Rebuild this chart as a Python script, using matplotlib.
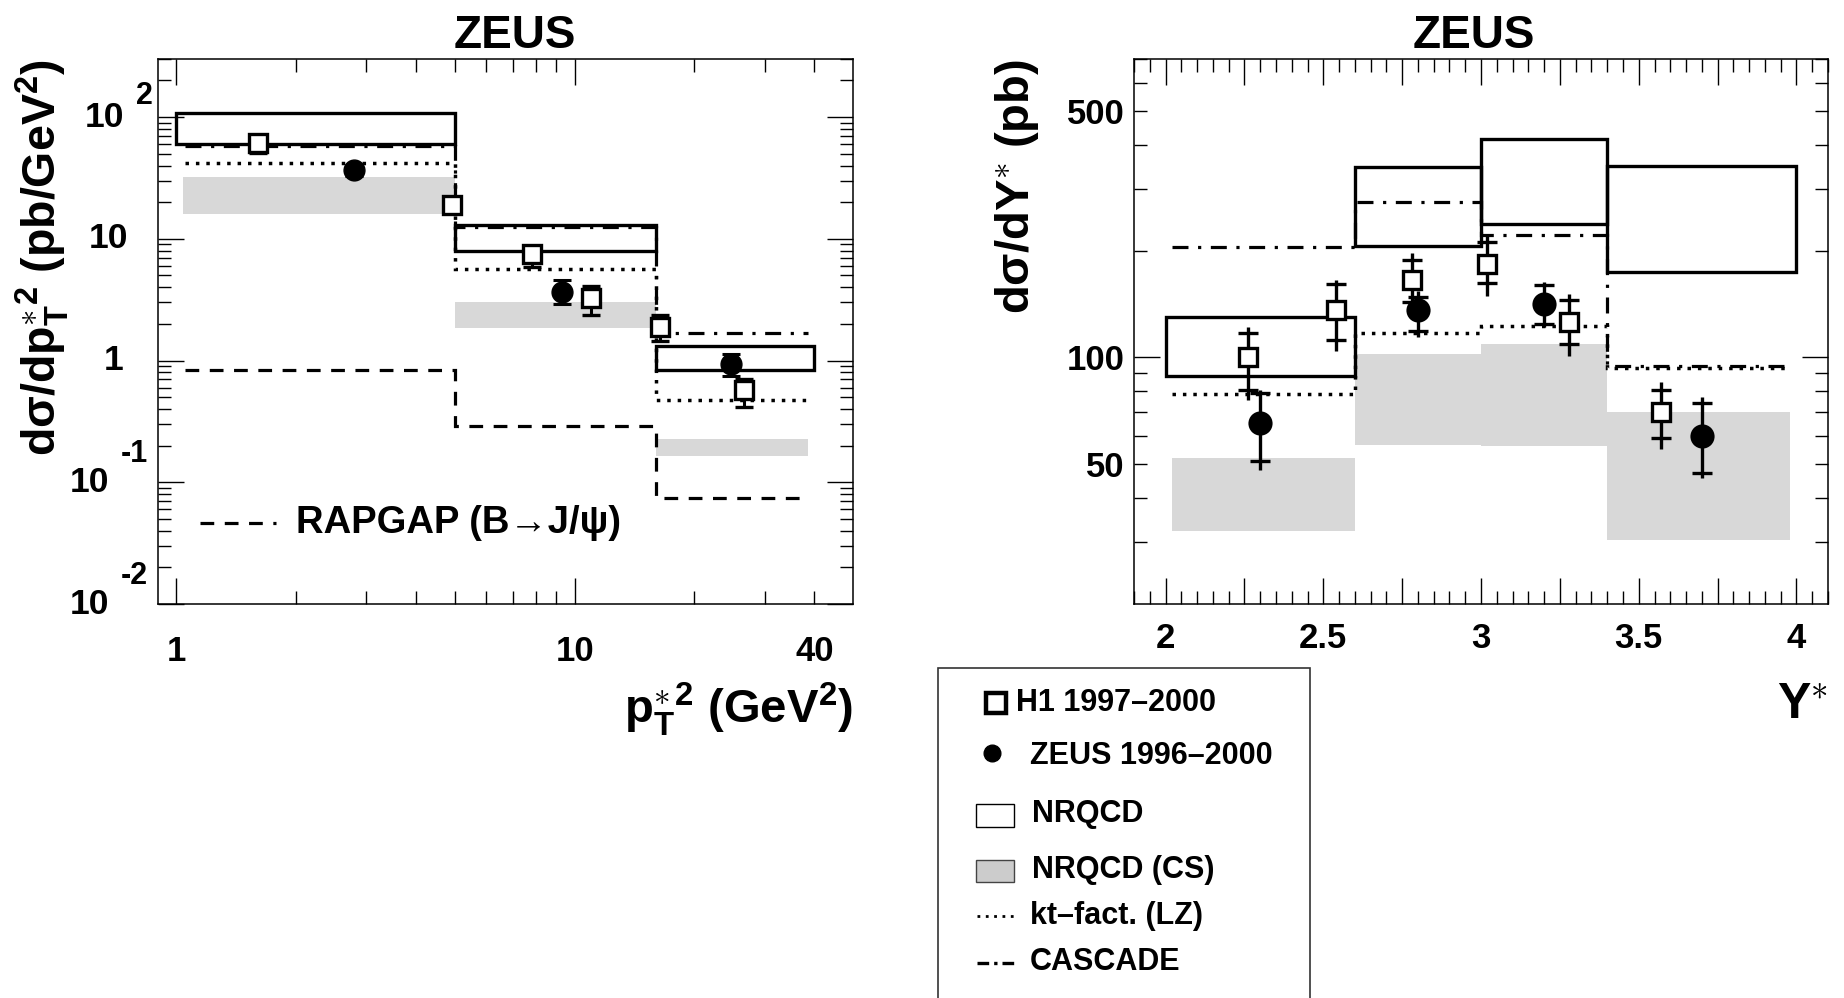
#!/usr/bin/env python3
"""ZEUS J/psi: dsigma/dpT*^2 and dsigma/dY* with H1 data and model curves."""
import numpy as np
import matplotlib

matplotlib.use("Agg")
import matplotlib.pyplot as plt
from matplotlib.lines import Line2D
from matplotlib.patches import Rectangle
from matplotlib.transforms import blended_transform_factory, offset_copy

plt.rcParams["font.family"] = ["Liberation Sans", "DejaVu Sans"]
plt.rcParams["font.weight"] = "bold"
plt.rcParams["axes.labelweight"] = "bold"
plt.rcParams["axes.titleweight"] = "bold"
plt.rcParams["mathtext.fontset"] = "custom"
plt.rcParams["mathtext.rm"] = "Liberation Sans:bold"
plt.rcParams["mathtext.it"] = "Liberation Sans:bold"
plt.rcParams["mathtext.bf"] = "Liberation Sans:bold"
plt.rcParams["mathtext.sf"] = "Liberation Sans:bold"

# ---- left panel: pT*^2 ----
pt_edges = [1, 5, 16, 40]
pt_line_edges = [1.05, 5, 16, 38.5]
pt_band_edges = [1.04, 5, 16, 38.5]
pt_nrqcd_lo = [60, 8.0, 0.83]
pt_nrqcd_hi = [109, 13.0, 1.31]
pt_cs_lo = [16, 1.84, 0.165]
pt_cs_hi = [32, 3.0, 0.225]
pt_kt = [41.7, 5.6, 0.47]
pt_cascade = [58, 12.6, 1.67]
pt_rapgap = [0.83, 0.289, 0.0736]

h1_pt_x = [1.6, 4.93, 7.83, 11.0, 16.4, 26.7]
h1_pt_y = [60.8, 18.9, 7.48, 3.24, 1.89, 0.571]
h1_pt_lo = [51, 16.5, 5.85, 2.37, 1.46, 0.417]
h1_pt_hi = [70, 21.5, 8.7, 4.1, 2.36, 0.70]

zeus_pt_x = [2.8, 9.31, 24.7]
zeus_pt_y = [36.7, 3.63, 0.93]
zeus_pt_lo = [33, 2.9, 0.74]
zeus_pt_hi = [40.5, 4.6, 1.13]

# ---- right panel: Y* ----
y_edges = [2.0, 2.6, 3.0, 3.4, 4.0]
y_line_edges = [2.02, 2.6, 3.0, 3.4, 3.98]
y_band_edges = [2.02, 2.6, 3.0, 3.4, 3.98]
y_nrqcd_lo = [88.6, 207, 239, 174]
y_nrqcd_hi = [130, 347, 415, 349]
y_cs_lo = [32.3, 56.6, 56, 30.3]
y_cs_hi = [52, 102.5, 109, 70]
y_kt = [78.5, 117, 122.6, 93]
y_cascade = [206, 276, 222, 94.5]

h1_y_x = [2.26, 2.54, 2.78, 3.02, 3.28, 3.57]
h1_y_y = [100, 136, 166, 184, 126, 70]
h1_y_stat_lo = [81, 112, 143, 162, 109, 59]
h1_y_stat_hi = [117, 161, 189, 212, 145, 81]
h1_y_tot_lo = [75.5, 104, 134, 149, 101, 55]
h1_y_tot_hi = [122, 166, 198, 221, 151, 85]

zeus_y_x = [2.30, 2.80, 3.20, 3.70]
zeus_y_y = [65, 136, 142, 60]
zeus_y_stat_lo = [51, 119, 124, 47]
zeus_y_stat_hi = [79, 148, 160, 74]
zeus_y_tot_lo = [48, 114, 122, 45.6]
zeus_y_tot_hi = [81, 154, 163, 77]

legend_labels = ["H1 1997\u20132000", "ZEUS 1996\u20132000", "NRQCD",
                 "NRQCD (CS)", "kt\u2013fact. (LZ)", "CASCADE"]

GREY = "#d8d8d8"
DOT = (0, (1, 2))
DASH = (0, (4.3, 3.3))
DASHDOT = (0, (5, 3, 1, 3))

W, H = 1844, 998
fig = plt.figure(figsize=(W / 100, H / 100), dpi=100)


def fx(px):
    return px / W


def fy(py):
    return 1 - py / H


ax1 = fig.add_axes([fx(158), fy(604), fx(853) - fx(158), fy(59) - fy(604)])
ax2 = fig.add_axes([fx(1134), fy(604), fx(1828) - fx(1134), fy(59) - fy(604)])


def draw_theory(ax, edges, band_edges, line_edges, nlo, nhi, clo, chi, kt, casc):
    for i in range(len(nlo)):
        ax.fill_between([band_edges[i], band_edges[i + 1]], clo[i], chi[i],
                        color=GREY, lw=0, zorder=1)
        ax.add_patch(Rectangle((edges[i], nlo[i]), edges[i + 1] - edges[i],
                               nhi[i] - nlo[i], fill=False, ec="k", lw=2.4, zorder=3))
    ax.stairs(kt, line_edges, baseline=None, color="k", lw=2.5, ls=DOT, zorder=4)
    ax.stairs(casc, line_edges, baseline=None, color="k", lw=2.3, ls=DASHDOT, zorder=4)


# left panel
ax1.set_xscale("log")
ax1.set_yscale("log")
ax1.set_xlim(0.9, 50)
ax1.set_ylim(0.01, 300)
draw_theory(ax1, pt_edges, pt_band_edges, pt_line_edges, pt_nrqcd_lo, pt_nrqcd_hi,
            pt_cs_lo, pt_cs_hi, pt_kt, pt_cascade)
ax1.stairs(pt_rapgap, pt_line_edges, baseline=None, color="k", lw=2.3, ls=DASH, zorder=4)

h1y = np.array(h1_pt_y)
ax1.errorbar(h1_pt_x, h1y, yerr=[h1y - np.array(h1_pt_lo), np.array(h1_pt_hi) - h1y],
             fmt="s", ms=12.5, mfc="white", mec="k", mew=2.4, ecolor="k",
             elinewidth=2.2, capsize=6.5, capthick=2.2, zorder=6)
zy = np.array(zeus_pt_y)
ax1.errorbar(zeus_pt_x, zy, yerr=[zy - np.array(zeus_pt_lo), np.array(zeus_pt_hi) - zy],
             fmt="o", ms=15, mfc="k", mec="k", ecolor="k",
             elinewidth=2.2, capsize=6.5, capthick=2.2, zorder=6)

# RAPGAP in-plot legend
ax1.plot([0.0604, 0.170], [0.149, 0.149], transform=ax1.transAxes, color="k",
         lw=2.3, ls=DASH)
ax1.text(0.1986, 0.149, "RAPGAP (B\u2192J/\u03c8)", transform=ax1.transAxes,
         fontsize=27.5, va="center", ha="left")

# right panel
ax2.set_yscale("log")
ax2.set_xlim(1.9, 4.1)
ax2.set_ylim(20, 700)
draw_theory(ax2, y_edges, y_band_edges, y_line_edges, y_nrqcd_lo, y_nrqcd_hi,
            y_cs_lo, y_cs_hi, y_kt, y_cascade)

for xs, ys, slo, shi, tlo, thi, mk, ms, face in [
    (h1_y_x, h1_y_y, h1_y_stat_lo, h1_y_stat_hi, h1_y_tot_lo, h1_y_tot_hi, "s", 12.5, "white"),
    (zeus_y_x, zeus_y_y, zeus_y_stat_lo, zeus_y_stat_hi, zeus_y_tot_lo, zeus_y_tot_hi, "o", 15, "k"),
]:
    ax2.vlines(xs, tlo, thi, color="k", lw=2.4, zorder=5)
    ax2.plot(xs, slo, ls="none", marker="_", ms=14, mew=2.4, color="k", zorder=5)
    ax2.plot(xs, shi, ls="none", marker="_", ms=14, mew=2.4, color="k", zorder=5)
    ax2.plot(xs, ys, ls="none", marker=mk, ms=ms, mfc=face, mec="k", mew=2.4, zorder=6)

# ticks
for ax in (ax1, ax2):
    ax.tick_params(which="both", direction="in", top=True, right=True, width=1.0, color="k")
    ax.tick_params(which="major", length=19)
    ax.tick_params(which="minor", length=9.5)
    for s in ax.spines.values():
        s.set_linewidth(1.1)

ax1.set_xticks([1, 10], labels=["1", "10"])
pt_minor = [2, 3, 4, 5, 6, 7, 8, 9, 20, 30, 40]
ax1.set_xticks(pt_minor, labels=["40" if v == 40 else "" for v in pt_minor], minor=True)
ax1.tick_params(axis="x", which="both", labelsize=25, pad=22)

ax1.set_yticks([0.01, 0.1, 1, 10, 100], labels=[""] * 5)
y1_minor = [k * 10.0 ** e for e in range(-2, 3) for k in range(2, 10) if k * 10.0 ** e <= 300]
ax1.set_yticks(y1_minor, labels=[""] * len(y1_minor), minor=True)

bt = blended_transform_factory(ax1.transAxes, ax1.transData)


def tlabel(val, txt, dx, dy, ha="right", size=25.5):
    ax1.text(0, val, txt, transform=offset_copy(bt, fig=fig, x=dx, y=dy, units="dots"),
             fontsize=size, ha=ha, va="center")


tlabel(1, "1", -35, 0)
tlabel(10, "10", -30, 0)
tlabel(100, "10", -34, 0)
tlabel(100, "2", -22, 21, ha="left", size=22)
tlabel(0.1, "10", -49, 0)
tlabel(0.1, "-1", -10, 28, size=22)
tlabel(0.01, "10", -49, 0)
tlabel(0.01, "-2", -10, 28, size=22)

ax2.set_xticks(np.arange(2, 4.01, 0.25),
               labels=["2", "", "2.5", "", "3", "", "3.5", "", "4"])
ax2.set_xticks(np.arange(1.9, 4.11, 0.05), minor=True)
ax2.tick_params(axis="x", which="both", labelsize=25, pad=13)
ax2.set_yticks([100], labels=["100"])
y2_minor = [30, 40, 50, 60, 70, 80, 90, 200, 300, 400, 500, 600, 700]
ax2.set_yticks(y2_minor, labels=[str(v) if v in (50, 500) else "" for v in y2_minor], minor=True)
ax2.tick_params(axis="y", which="both", labelsize=25, pad=7)

# titles and axis labels
ax1.set_title("ZEUS", fontsize=33, pad=8, x=0.513)
ax2.set_title("ZEUS", fontsize=33, pad=8, x=0.489)

ax1.set_ylabel(r"d$\sigma$/dp$_{T}^{\ast\,2}$ (pb/GeV$^{2}$)", fontsize=33.5, loc="top")
ax1.yaxis.set_label_coords(-0.125, 1)
ax1.set_xlabel(r"p$_{T}^{\ast\,2}$ (GeV$^{2}$)", fontsize=34, loc="right")
ax1.xaxis.set_label_coords(1, -0.14)

ax2.set_ylabel(r"d$\sigma$/dY$^{\ast}$ (pb)", fontsize=34, loc="top")
ax2.yaxis.set_label_coords(-0.134, 1)
ax2.set_xlabel(r"Y$^{\ast}$", fontsize=36, loc="right")
ax2.xaxis.set_label_coords(1, -0.145)

# legend box (figure coordinates)
fig.add_artist(Rectangle((fx(938), -0.05), fx(1310) - fx(938), fy(668) + 0.05,
                         transform=fig.transFigure, fill=False, ec="#333333", lw=1.2))
fig.add_artist(Line2D([fx(996)], [fy(703)], transform=fig.transFigure, marker="s",
                      ms=15, mfc="white", mec="k", mew=3.2, ls="none"))
fig.add_artist(Line2D([fx(992)], [fy(753)], transform=fig.transFigure, marker="o",
                      ms=12, mfc="k", mec="k", ls="none"))
fig.add_artist(Rectangle((fx(976), fy(827)), fx(1014) - fx(976), fy(804) - fy(827),
                         transform=fig.transFigure, fc="white", ec="k", lw=1.0))
fig.add_artist(Rectangle((fx(976), fy(882)), fx(1014) - fx(976), fy(860) - fy(882),
                         transform=fig.transFigure, fc="#cccccc", ec="#444444", lw=1.0))
fig.add_artist(Line2D([fx(977), fx(1016)], [fy(916), fy(916)], transform=fig.transFigure,
                      color="k", lw=2.0, ls=DOT))
fig.add_artist(Line2D([fx(977), fx(1018)], [fy(963), fy(963)], transform=fig.transFigure,
                      color="k", lw=2.4, ls=(0, (3.5, 1.5, 1, 1.5))))
for lab, px, py in zip(legend_labels, [1016, 1030, 1032, 1032, 1030, 1030],
                       [703, 756, 814, 870, 916, 962]):
    fig.text(fx(px), fy(py), lab, fontsize=22, ha="left", va="center")

fig.savefig("out.png", dpi=100)
